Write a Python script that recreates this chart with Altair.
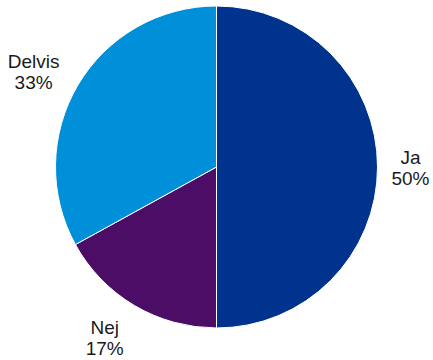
import altair as alt
import pandas as pd

categories = ["Ja", "Nej", "Delvis"]
values = [50, 17, 33]
labels = ["Ja\n50%", "Nej\n17%", "Delvis\n33%"]
colors = ["#00338D", "#4B0D66", "#0090DA"]

df = pd.DataFrame({"cat": categories, "val": values, "label": labels, "ord": [0, 1, 2]})

base = alt.Chart(df).encode(
    theta=alt.Theta("val:Q", stack=True),
    order=alt.Order("ord:Q"),
)

arcs = base.mark_arc(outerRadius=161, stroke="white", strokeWidth=1).encode(
    color=alt.Color("cat:N", scale=alt.Scale(domain=categories, range=colors), legend=None)
)

# label nudges (styling, per label)
nudges = {"Ja": (-8, -9), "Nej": (-9, -13), "Delvis": (-9, -2)}

layers = [arcs]
for cat in categories:
    dx, dy = nudges[cat]
    layers.append(
        base.mark_text(
            radius=202, font="Liberation Sans", fontSize=19, color="#1a1a1a",
            align="center", baseline="middle", lineBreak="\n", lineHeight=21,
            dx=dx, dy=dy,
        ).encode(
            text="label:N",
            opacity=alt.condition(alt.datum.cat == cat, alt.value(1), alt.value(0)),
        )
    )

chart = alt.layer(*layers).properties(
    width=433, height=334,
    autosize=alt.AutoSizeParams(type="none"),
    padding={"top": 0, "bottom": 26, "left": 0, "right": 0},
).configure_view(stroke=None)

chart.save("out.html", embed_options={"renderer": "svg", "actions": False})
